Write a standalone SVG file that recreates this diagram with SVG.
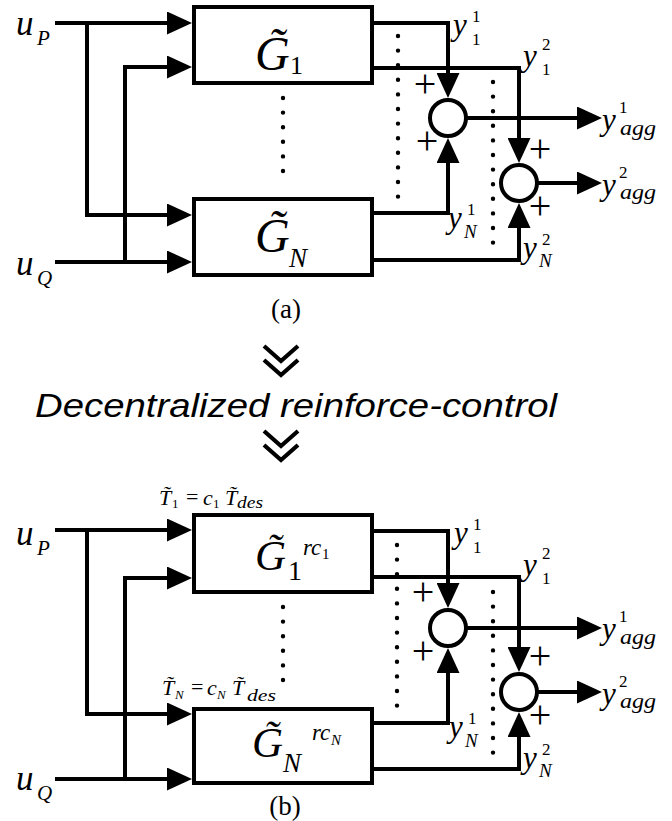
<svg xmlns="http://www.w3.org/2000/svg" width="672" height="821" viewBox="0 0 672 821">
<style>
.ln{fill:none;stroke:#000;stroke-width:4;stroke-linejoin:miter}
.arr{marker-end:url(#ah)}
.box{fill:#fff;stroke:#000;stroke-width:4}
.sum{fill:#fff;stroke:#000;stroke-width:4}
.dot{fill:none;stroke:#000;stroke-width:4.4;stroke-linecap:round;stroke-dasharray:0 14.6}
.chev{fill:none;stroke:#000;stroke-width:4.2}
.m{font-family:"Liberation Serif","Times New Roman",serif;font-style:italic;fill:#000}
.r{font-family:"Liberation Serif","Times New Roman",serif;font-style:normal;fill:#000}
.s{font-family:"Liberation Sans",Arial,sans-serif;font-style:italic;fill:#000}
.pl{font-family:"Liberation Serif","Times New Roman",serif;font-size:40px;fill:#000;text-anchor:middle}
</style>
<defs>
<marker id="ah" markerUnits="userSpaceOnUse" markerWidth="25" markerHeight="23" refX="15" refY="11.5" orient="auto">
<path d="M0,0 L25,11.5 L0,23 z" fill="#000"/>
</marker>
</defs>
<rect width="672" height="821" fill="#fff"/>

<!-- ===== (a) ===== -->
<g id="connectors-a">
<path class="ln arr" d="M55,23 H182"/>
<path class="ln arr" d="M87,23 V215 H182"/>
<path class="ln arr" d="M55,262 H182"/>
<path class="ln arr" d="M125,262 V67 H182"/>
<path class="ln arr" d="M372,23 H448 V88"/>
<path class="ln arr" d="M372,68 H519 V153"/>
<path class="ln arr" d="M372,213 H448 V148"/>
<path class="ln arr" d="M372,260 H519 V213"/>
<path class="ln arr" d="M466,118 H592"/>
<path class="ln arr" d="M537,183 H592"/>
</g>
<g id="dots-a">
<line class="dot" x1="398" y1="36" x2="398" y2="198"/>
<line class="dot" x1="493" y1="82" x2="493" y2="243"/>
<line class="dot" x1="283" y1="98" x2="283" y2="172"/>
</g>
<g id="G1-a">
<rect class="box" x="194" y="7" width="178" height="76"/>
<text class="m" font-size="48"><tspan x="255" y="70">G&#x303;</tspan><tspan class="r" x="290" y="74" font-size="26">1</tspan></text>
</g>
<g id="GN-a">
<rect class="box" x="194" y="199" width="178" height="76"/>
<text class="m" font-size="48"><tspan x="255" y="252">G&#x303;</tspan><tspan x="289" y="267" font-size="27">N</tspan></text>
</g>
<g id="sum1-a"><circle class="sum" cx="448" cy="118" r="18"/></g>
<g id="sum2-a"><circle class="sum" cx="519" cy="183" r="18"/></g>
<g id="labels-a">
<text class="m" font-size="35"><tspan x="16" y="35">u</tspan><tspan x="37" y="45" font-size="21">P</tspan></text>
<text class="m" font-size="35"><tspan x="16" y="275">u</tspan><tspan x="37" y="285" font-size="21">Q</tspan></text>
<text class="pl" x="425" y="97">+</text>
<text class="pl" x="427" y="154">+</text>
<text class="pl" x="540" y="162">+</text>
<text class="pl" x="540" y="219">+</text>
<text class="m" font-size="31"><tspan x="453" y="35">y</tspan><tspan class="r" x="472" y="22" font-size="17">1</tspan><tspan class="r" x="472" y="45" font-size="17">1</tspan></text>
<text class="m" font-size="31"><tspan x="523" y="66">y</tspan><tspan class="r" x="542" y="50" font-size="17">2</tspan><tspan class="r" x="542" y="75" font-size="17">1</tspan></text>
<text class="m" font-size="31"><tspan x="602" y="130">y</tspan><tspan class="r" x="619" y="113" font-size="17">1</tspan><tspan x="620" y="135" font-size="20" textLength="36" lengthAdjust="spacingAndGlyphs">agg</tspan></text>
<text class="m" font-size="31"><tspan x="602" y="195">y</tspan><tspan class="r" x="619" y="178" font-size="17">2</tspan><tspan x="620" y="199" font-size="20" textLength="36" lengthAdjust="spacingAndGlyphs">agg</tspan></text>
<text class="m" font-size="31"><tspan x="448" y="228">y</tspan><tspan class="r" x="467" y="215" font-size="17">1</tspan><tspan x="464" y="238" font-size="19">N</tspan></text>
<text class="m" font-size="31"><tspan x="523" y="258">y</tspan><tspan class="r" x="542" y="245" font-size="17">2</tspan><tspan x="539" y="267" font-size="19">N</tspan></text>
<text class="r" x="286" y="318" font-size="27" text-anchor="middle">(a)</text>
</g>

<!-- ===== middle ===== -->
<g id="transition">
<polyline class="chev" points="264,346 281,361 298,346"/>
<polyline class="chev" points="264,360 281,375 298,360"/>
<text class="s" x="35" y="417" font-size="34" textLength="522" lengthAdjust="spacingAndGlyphs">Decentralized reinforce-control</text>
<polyline class="chev" points="264,431 281,446 298,431"/>
<polyline class="chev" points="264,445 281,460 298,445"/>
</g>

<!-- ===== (b) ===== -->
<g id="connectors-b">
<path class="ln arr" d="M55,530 H182"/>
<path class="ln arr" d="M87,530 V714 H182"/>
<path class="ln arr" d="M55,779 H182"/>
<path class="ln arr" d="M125,779 V578 H182"/>
<path class="ln arr" d="M372,531 H448 V598"/>
<path class="ln arr" d="M372,577 H519 V662"/>
<path class="ln arr" d="M372,723 H448 V658"/>
<path class="ln arr" d="M372,769 H519 V722"/>
<path class="ln arr" d="M466,628 H592"/>
<path class="ln arr" d="M537,692 H592"/>
</g>
<g id="dots-b">
<line class="dot" x1="397" y1="545" x2="397" y2="706"/>
<line class="dot" x1="493" y1="592" x2="493" y2="753"/>
<line class="dot" x1="283" y1="607" x2="283" y2="681"/>
</g>
<g id="G1-b">
<rect class="box" x="194" y="515" width="178" height="77"/>
<text class="m" font-size="43"><tspan x="255" y="570">G&#x303;</tspan><tspan class="r" x="288" y="580" font-size="28">1</tspan><tspan x="303" y="555" font-size="23">rc</tspan><tspan class="r" x="322" y="559" font-size="15">1</tspan></text>
</g>
<g id="GN-b">
<rect class="box" x="194" y="709" width="178" height="74"/>
<text class="m" font-size="43"><tspan x="252" y="757">G&#x303;</tspan><tspan x="283" y="772" font-size="27">N</tspan><tspan x="312" y="740" font-size="23">rc</tspan><tspan x="331" y="745" font-size="15">N</tspan></text>
</g>
<g id="sum1-b"><circle class="sum" cx="448" cy="628" r="18"/></g>
<g id="sum2-b"><circle class="sum" cx="519" cy="692" r="18"/></g>
<g id="labels-b">
<text class="m" font-size="35"><tspan x="16" y="545">u</tspan><tspan x="37" y="555" font-size="21">P</tspan></text>
<text class="m" font-size="35"><tspan x="16" y="790">u</tspan><tspan x="37" y="800" font-size="21">Q</tspan></text>
<text class="m" font-size="22"><tspan x="159" y="505">T&#x303;</tspan><tspan class="r" x="172" y="508" font-size="13">1</tspan><tspan class="r" x="186" y="504">=</tspan><tspan x="203" y="505">c</tspan><tspan class="r" x="213" y="508" font-size="13">1</tspan><tspan x="225" y="505">T&#x303;</tspan><tspan x="237" y="508" font-size="17" textLength="26" lengthAdjust="spacingAndGlyphs">des</tspan></text>
<text class="m" font-size="22"><tspan x="162" y="695">T&#x303;</tspan><tspan x="175" y="699" font-size="13">N</tspan><tspan class="r" x="191" y="694">=</tspan><tspan x="207" y="695">c</tspan><tspan x="217" y="699" font-size="13">N</tspan><tspan x="232" y="695">T&#x303;</tspan><tspan x="247" y="701" font-size="17" textLength="29" lengthAdjust="spacingAndGlyphs">des</tspan></text>
<text class="pl" x="423" y="605">+</text>
<text class="pl" x="423" y="664">+</text>
<text class="pl" x="540" y="669">+</text>
<text class="pl" x="540" y="728">+</text>
<text class="m" font-size="31"><tspan x="454" y="543">y</tspan><tspan class="r" x="473" y="530" font-size="17">1</tspan><tspan class="r" x="473" y="553" font-size="17">1</tspan></text>
<text class="m" font-size="31"><tspan x="523" y="575">y</tspan><tspan class="r" x="542" y="559" font-size="17">2</tspan><tspan class="r" x="542" y="584" font-size="17">1</tspan></text>
<text class="m" font-size="31"><tspan x="602" y="639">y</tspan><tspan class="r" x="619" y="622" font-size="17">1</tspan><tspan x="620" y="644" font-size="20" textLength="36" lengthAdjust="spacingAndGlyphs">agg</tspan></text>
<text class="m" font-size="31"><tspan x="602" y="704">y</tspan><tspan class="r" x="619" y="687" font-size="17">2</tspan><tspan x="620" y="708" font-size="20" textLength="36" lengthAdjust="spacingAndGlyphs">agg</tspan></text>
<text class="m" font-size="31"><tspan x="449" y="737">y</tspan><tspan class="r" x="468" y="724" font-size="17">1</tspan><tspan x="465" y="747" font-size="19">N</tspan></text>
<text class="m" font-size="31"><tspan x="523" y="768">y</tspan><tspan class="r" x="542" y="755" font-size="17">2</tspan><tspan x="539" y="777" font-size="19">N</tspan></text>
<text class="r" x="285" y="815" font-size="27" text-anchor="middle">(b)</text>
</g>
</svg>
